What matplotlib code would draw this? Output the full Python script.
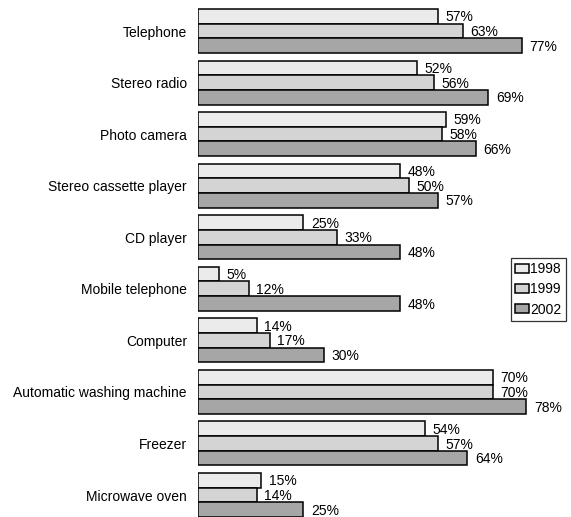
import matplotlib
matplotlib.use("Agg")
import matplotlib.pyplot as plt
import numpy as np

categories = ["Telephone", "Stereo radio", "Photo camera", "Stereo cassette player",
              "CD player", "Mobile telephone", "Computer", "Automatic washing machine",
              "Freezer", "Microwave oven"]
years = ["1998", "1999", "2002"]
pct_1998 = [57, 52, 59, 48, 25, 5, 14, 70, 54, 15]
pct_1999 = [63, 56, 58, 50, 33, 12, 17, 70, 57, 14]
pct_2002 = [77, 69, 66, 57, 48, 48, 30, 78, 64, 25]

colors = ["#ebebeb", "#d4d4d4", "#a6a6a6"]

plt.rcParams["font.family"] = ["Liberation Sans", "DejaVu Sans"]

W, H = 571, 517
fig = plt.figure(figsize=(W / 100, H / 100), dpi=100)
pitch = 51.56          # px per category
h = 14.67 / pitch      # bar height in category units
px_x = 4.21            # px per percent
x0 = 198
ax = fig.add_axes([x0 / W, 0, (W - x0) / W, 1])
ax.set_xlim(0, (W - x0) / px_x)
top_px = 31
ax.set_ylim((H - top_px) / pitch, -top_px / pitch)

y = np.arange(len(categories))
series = [pct_1998, pct_1999, pct_2002]
for k, (vals, c, lab) in enumerate(zip(series, colors, years)):
    pos = y + (k - 1) * h
    ax.barh(pos, vals, height=h, color=c, edgecolor="black", linewidth=1.1, label=lab)
    for yy, v in zip(pos, vals):
        ax.text(v + 7.5 / px_x, yy + 0.02, f"{v}%", va="center", ha="left", fontsize=10)

ax.set_yticks(y)
ax.set_yticklabels(categories, fontsize=10)
ax.tick_params(axis="y", length=0, pad=8)
ax.set_xticks([])
for s in ax.spines.values():
    s.set_visible(False)

leg = fig.legend(loc="upper left", bbox_to_anchor=(511 / W, 1 - 258 / H),
                 fontsize=10, frameon=True, fancybox=False, edgecolor="black",
                 handlelength=1.0, handleheight=0.6, handletextpad=0.1,
                 borderpad=0.3, labelspacing=0.45, borderaxespad=0)
leg.get_frame().set_linewidth(0.9)

fig.savefig("out.png", dpi=100)
